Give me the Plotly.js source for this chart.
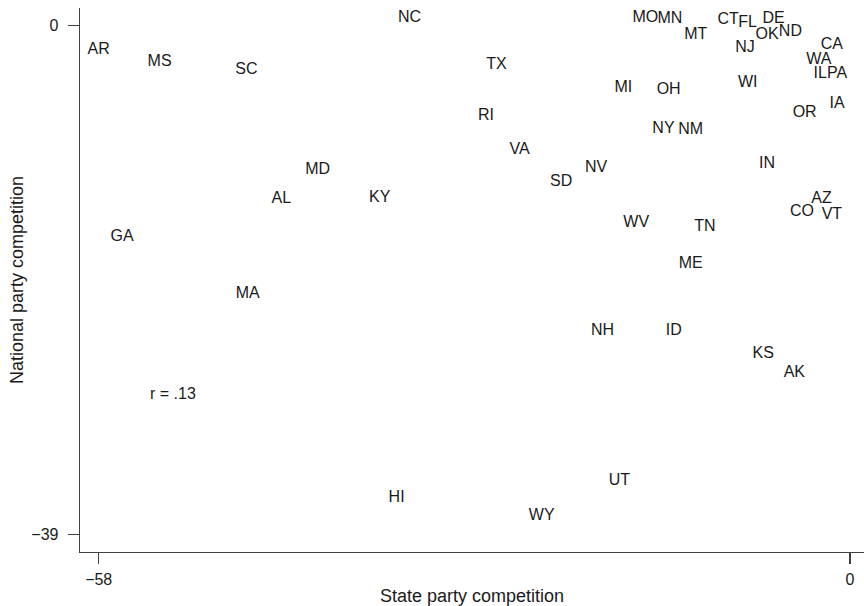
<!DOCTYPE html>
<html>
<head>
<meta charset="utf-8">
<script src="https://cdn.plot.ly/plotly-3.0.1.min.js"></script>
<style>html,body{margin:0;padding:0;background:#fff;}#chart{width:864px;height:606px;}</style>
</head>
<body>
<div id="chart"></div>
<script>
// State abbreviations and their party competition scores
const states = ["AR","MS","SC","NC","TX","RI","VA","MD","AL","KY","SD","NV","GA","MA","HI","WY","UT","NH","ID","KS","AK","WV","TN","ME","IN","CO","AZ","VT","NY","NM","OR","IA","MI","OH","WI","MO","MN","MT","CT","FL","DE","OK","ND","NJ","CA","WA","IL","PA"];
const stateCompetition = [-58.0,-53.3,-46.6,-34.0,-27.3,-28.1,-25.5,-41.1,-43.9,-36.3,-22.3,-19.6,-56.2,-46.5,-35.0,-23.8,-17.8,-19.1,-13.6,-6.7,-4.3,-16.5,-11.2,-12.3,-6.4,-3.7,-2.2,-1.4,-14.4,-12.3,-3.5,-1.0,-17.5,-14.0,-7.9,-15.8,-13.9,-11.9,-9.4,-7.9,-5.9,-6.4,-4.6,-8.1,-1.4,-2.4,-2.3,-1.0];
const nationalCompetition = [-1.9,-2.8,-3.4,0.6,-3.0,-6.9,-9.5,-11.1,-13.3,-13.2,-12.0,-10.9,-16.2,-20.6,-36.2,-37.6,-34.9,-23.4,-23.4,-25.2,-26.6,-15.1,-15.4,-18.3,-10.6,-14.3,-13.3,-14.5,-7.9,-8.0,-6.7,-6.0,-4.8,-4.9,-4.4,0.6,0.5,-0.7,0.4,0.2,0.5,-0.7,-0.5,-1.7,-1.5,-2.6,-3.7,-3.7];
const xTickVals = [-58, 0];
const xTickText = ["\u221258", "0"];
const yTickVals = [-39, 0];
const yTickText = ["\u221239", "0"];
const corrLabel = "r = .13";
const corrPos = [-52.3, -28.2];

const FONT = "Liberation Sans, Arial, Helvetica, sans-serif";
const AXIS_COLOR = "#404040";
const TEXT_COLOR = "#1a1a1a";

const trace = {
  type: "scatter",
  mode: "text",
  x: stateCompetition,
  y: nationalCompetition,
  text: states,
  textposition: "middle center",
  textfont: {family: FONT, size: 16, color: TEXT_COLOR},
  hoverinfo: "text",
  showlegend: false
};

const layout = {
  width: 864,
  height: 606,
  margin: {l: 80, r: 0, t: 8, b: 54, pad: 0},
  paper_bgcolor: "#ffffff",
  plot_bgcolor: "#ffffff",
  font: {family: FONT, size: 16, color: TEXT_COLOR},
  showlegend: false,
  xaxis: {
    range: [-59.443, 1.081],
    showgrid: false,
    zeroline: false,
    showline: true,
    linecolor: AXIS_COLOR,
    linewidth: 1.3,
    ticks: "outside",
    ticklen: 11,
    tickwidth: 1.3,
    tickcolor: AXIS_COLOR,
    tickvals: xTickVals,
    ticktext: xTickText,
    tickfont: {family: FONT, size: 16, color: TEXT_COLOR},
    ticklabelstandoff: 1,
    title: {text: "State party competition", font: {family: FONT, size: 18, color: TEXT_COLOR}, standoff: 6}
  },
  yaxis: {
    range: [-40.355, 1.355],
    showgrid: false,
    zeroline: false,
    showline: true,
    linecolor: AXIS_COLOR,
    linewidth: 1.3,
    ticks: "outside",
    ticklen: 11,
    tickwidth: 1.3,
    tickcolor: AXIS_COLOR,
    tickvals: yTickVals,
    ticktext: yTickText,
    tickfont: {family: FONT, size: 16, color: TEXT_COLOR},
    ticklabelstandoff: 6,
    title: {text: "National party competition", font: {family: FONT, size: 18, color: TEXT_COLOR}, standoff: 3}
  },
  annotations: [{
    x: corrPos[0], y: corrPos[1], xref: "x", yref: "y",
    text: corrLabel, showarrow: false,
    font: {family: FONT, size: 16, color: TEXT_COLOR},
    xanchor: "center", yanchor: "middle"
  }]
};

Plotly.newPlot("chart", [trace], layout, {displayModeBar: false, staticPlot: true});
</script>
</body>
</html>
